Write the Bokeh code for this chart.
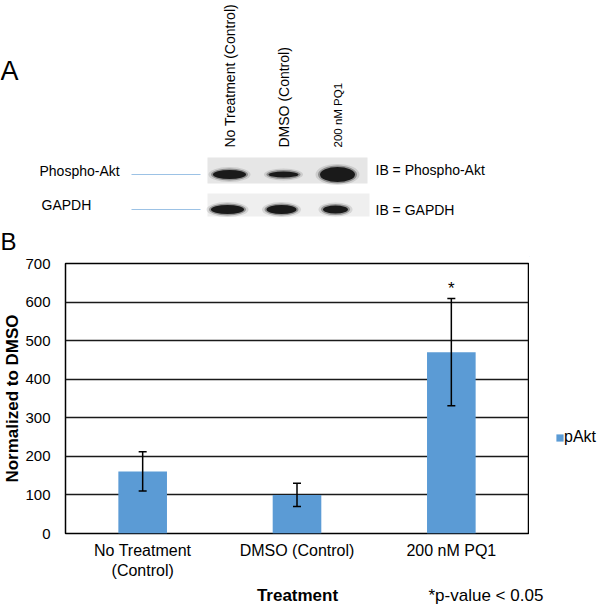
import numpy as np
from bokeh.plotting import figure
from bokeh.models import (Range1d, FactorRange, ColumnDataSource, Whisker, TeeHead,
                          FixedTicker, Legend, LegendItem)
from bokeh.layouts import column, row
from bokeh.embed import file_html
from bokeh.resources import INLINE
from bokeh.core.properties import value

# ---------------- Panel B data ----------------
treatments = ["No Treatment\n(Control)", "DMSO (Control)", "200 nM PQ1"]
pakt_mean = [161, 100, 470]
pakt_err = [51, 30, 139]
significance = ["", "", "*"]
y_ticks = [0, 100, 200, 300, 400, 500, 600, 700]
series_name = "pAkt"
y_title = "Normalized to DMSO"
x_title = "Treatment"
footnote = "*p-value < 0.05"

# ---------------- Panel A data (western blot) ----------------
lanes = ["No Treatment (Control)", "DMSO (Control)", "200 nM PQ1"]
phospho_band_w = [33, 30, 35]
phospho_band_h = [9, 6, 15]
gapdh_band_w = [33, 30, 25]
gapdh_band_h = [9, 9, 8]
row_names = ["Phospho-Akt", "GAPDH"]
ib_names = ["IB = Phospho-Akt", "IB = GAPDH"]

FONT = "Liberation Sans"
BAR = "#5b9bd5"


def bare_fig(w, h, x0, x1, y0, y1):
    f = figure(width=w, height=h, x_range=Range1d(x0, x1), y_range=Range1d(y1, y0),
               output_backend="svg", toolbar_location=None, min_border=0,
               x_axis_location=None, y_axis_location=None, frame_align=False)
    f.grid.visible = False
    f.outline_line_color = None
    return f


def txt(f, x, y, t, size="14px", align="left", baseline="middle", **kw):
    f.text(x=x, y=y, text=t, text_align=align, text_baseline=baseline,
           text_font=value(FONT), text_font_size=size, text_color="black", **kw)


# ---------------- top panel (A), page-pixel coordinates ----------------
top = bare_fig(600, 256, 0, 600, 0, 256)

lane_x0, lane_pitch = 229, 54
lane_x = [lane_x0 + lane_pitch * i for i in range(len(lanes))]
row_y = [174, 209]

top.quad(left=[207, 207], right=[367, 369], top=[157, 193], bottom=[183, 216],
         fill_color=["#e6e6e6", "#efefef"], line_color=None)

for (ws, hs, yy, dx) in [(phospho_band_w, phospho_band_h, row_y[0], 0),
                         (gapdh_band_w, gapdh_band_h, row_y[1], -2)]:
    xs = [x + dx for x in lane_x]
    for grow_w, grow_h, alpha in [(9, 6, 0.12), (4, 3, 0.35), (0, 0, 1.0)]:
        top.ellipse(x=xs, y=[yy] * len(xs), width=[w + grow_w for w in ws],
                    height=[h + grow_h for h in hs], fill_color="#1a1a1a",
                    fill_alpha=alpha, line_color=None)

top.segment(x0=[131, 131], y0=row_y, x1=[200, 200], y1=row_y,
            line_color="#9cc2e5", line_width=1.2)

txt(top, lane_x[:2], [147] * 2, lanes[:2], angle=np.pi / 2)
txt(top, lane_x[2:], [147], lanes[2:], size="11.5px", angle=np.pi / 2)
txt(top, [39, 41], [170, 204], row_names)
txt(top, [375, 375], [169, 209], ib_names)
txt(top, [0], [70], ["A"], size="27px")
txt(top, [0], [241], ["B"], size="24px")

# ---------------- bar chart (B) ----------------
upper = [m + e for m, e in zip(pakt_mean, pakt_err)]
lower = [m - e for m, e in zip(pakt_mean, pakt_err)]
src = ColumnDataSource(dict(x=treatments, top=pakt_mean, upper=upper, lower=lower,
                            sig=significance))

p = figure(x_range=FactorRange(*treatments), y_range=Range1d(0, 700),
           width=529, height=327, output_backend="svg", toolbar_location=None,
           min_border_left=65, min_border_right=1, min_border_top=7,
           min_border_bottom=50, frame_align=False)
p.outline_line_color = "black"
p.outline_line_width = 1.5
p.xgrid.grid_line_color = None
p.ygrid.grid_line_color = "#1a1a1a"
p.ygrid.grid_line_width = 1.5

bar_style = dict(fill_color=BAR, line_color=None)
bars = p.vbar(x="x", top="top", width=0.315, source=src, **bar_style)
p.add_layout(Whisker(base="x", upper="upper", lower="lower", source=src, level="overlay",
                     line_color="black", line_width=1.5,
                     upper_head=TeeHead(size=8, line_width=1.5, line_color="black"),
                     lower_head=TeeHead(size=8, line_width=1.5, line_color="black")))
p.text(x="x", y="upper", text="sig", source=src, y_offset=-10, text_align="center",
       text_baseline="middle", text_font=value(FONT), text_font_size="17px",
       text_color="black")

p.yaxis.ticker = FixedTicker(ticks=y_ticks)
for ax in (p.xaxis[0], p.yaxis[0]):
    ax.axis_line_color = None
    ax.major_tick_in = 0
    ax.major_tick_out = 0
    ax.minor_tick_in = 0
    ax.minor_tick_out = 0
    ax.major_label_text_font = FONT
    ax.major_label_text_color = "black"
    ax.axis_label_text_font = FONT
    ax.axis_label_text_font_style = "bold"
    ax.axis_label_text_color = "black"
p.yaxis.major_label_text_font_size = "15px"
p.yaxis.major_label_standoff = 15
p.yaxis.axis_label = y_title
p.yaxis.axis_label_text_font_size = "17px"
p.yaxis.axis_label_standoff = 0
p.xaxis.major_label_text_font_size = "16px"
p.xaxis.major_label_standoff = 8

# ---------------- legend strip to the right of the chart ----------------
legfig = bare_fig(71, 327, 529, 600, 256, 583)
# legend key renderer: one pAkt key placed outside the strip's visible range
key = legfig.vbar(x=[-1000], top=[1], width=1, **bar_style)
legend = Legend(items=[LegendItem(label=series_name, renderers=[key])],
                location=(26, 137), border_line_color=None, background_fill_alpha=0,
                padding=0, margin=0, spacing=0, glyph_width=9, glyph_height=9,
                label_standoff=0, label_text_font=FONT, label_text_font_size="16px",
                label_text_color="black")
legfig.add_layout(legend)

# ---------------- footer: axis title and footnote ----------------
foot = bare_fig(600, 24, 0, 600, 583, 607)
txt(foot, [297], [595], [x_title], size="17px", align="center", text_font_style="bold")
txt(foot, [428], [595], [footnote], size="17px")

layout = column(top, row(p, legfig, spacing=0), foot, spacing=0)
open("out.html", "w").write(file_html(layout, INLINE))
